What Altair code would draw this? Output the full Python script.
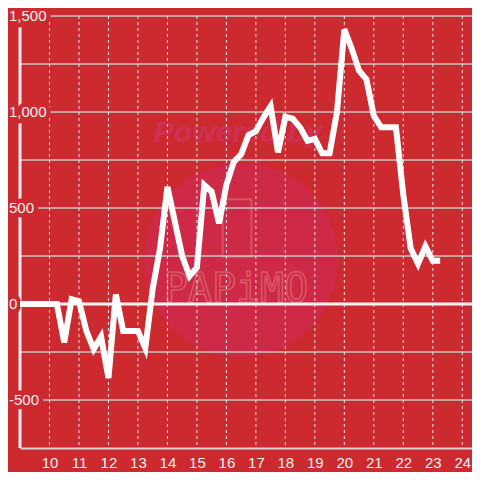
import altair as alt
import pandas as pd

# ---- data ----
hours = [9.0, 9.25, 9.5, 9.75, 10.0, 10.25, 10.5, 10.75, 11.0, 11.25, 11.5, 11.75,
         12.0, 12.25, 12.5, 12.75, 13.0, 13.25, 13.5, 13.75, 14.0, 14.25, 14.5, 14.75,
         15.0, 15.25, 15.5, 15.75, 16.0, 16.25, 16.5, 16.75, 17.0, 17.25, 17.5, 17.75,
         18.0, 18.25, 18.5, 18.75, 19.0, 19.25, 19.5, 19.75, 20.0, 20.25, 20.5, 20.75,
         21.0, 21.25, 21.5, 21.75, 22.0, 22.25, 22.5, 22.75, 23.0, 23.25]
profit = [0, 0, 0, 0, 0, 0, -200, 25, 15, -140, -235, -170,
          -385, 50, -140, -140, -140, -230, 80, 290, 610, 430, 250, 145,
          190, 620, 585, 420, 620, 740, 780, 880, 900, 970, 1030, 790,
          975, 965, 920, 850, 860, 785, 785, 1000, 1430, 1330, 1215, 1170,
          980, 920, 920, 920, 570, 290, 210, 300, 225, 225]
x_ticks = [10, 11, 12, 13, 14, 15, 16, 17, 18, 19, 20, 21, 22, 23, 24]
grid_y = [1500, 1250, 1000, 750, 500, 250, -250, -500]
label_values = [1500, 1000, 500, 0, -500]
label_texts = ["1,500", "1,000", "500", "0", "-500"]

W, H = 452, 432
BG = "#cc2a2f"
FONT = "Liberation Sans"

xs = alt.Scale(domain=[9, 24.33], nice=False, zero=False)
ys = alt.Scale(domain=[-750, 1500], nice=False, zero=False)
x_axis = alt.Axis(values=x_ticks, grid=False, ticks=False, domainColor="#d6d6d6",
                  domainWidth=2, labelColor="#f2f2f2", labelFontSize=15,
                  labelFont=FONT, labelPadding=7, title=None)
y_enc = alt.Y("v:Q", scale=ys, axis=None)

line_df = pd.DataFrame({"hour": hours, "v": profit})
gy_df = pd.DataFrame({"v": grid_y})
gx_df = pd.DataFrame({"hour": x_ticks})
lab_df = pd.DataFrame({"v": label_values, "t": label_texts})
one = pd.DataFrame({"a": [0]})

# watermark
circle = alt.Chart(one).mark_point(shape="circle", filled=True, size=37636,
                                   color="#ce2947", opacity=1).encode(
    x=alt.value(221), y=alt.value(244))
phone = alt.Chart(one).mark_point(shape="M-0.5,-1H0.5V1H-0.5Z", filled=False,
                                  color="#d9545f", strokeWidth=2, size=3300, opacity=1).encode(
    x=alt.value(217), y=alt.value(212))
powered = alt.Chart(one).mark_text(text="Powered by", font=FONT, fontSize=30,
                                   fontWeight="bold", fontStyle="italic",
                                   color="#d02f55").encode(
    x=alt.value(218), y=alt.value(117))
papimo = alt.Chart(one).mark_text(text="PAPiMO", font="DejaVu Sans Mono", fontSize=40,
                                  fill="transparent", stroke="#da5a66",
                                  strokeWidth=1.5).encode(
    x=alt.value(216), y=alt.value(274))

# grid
hgrid = alt.Chart(gy_df).mark_rule(color="#c8c8c8", strokeWidth=1.5).encode(
    y=y_enc, x=alt.value(0), x2=alt.value(W))
vgrid = alt.Chart(gx_df).mark_rule(color="#e6e6e6", strokeWidth=1, strokeDash=[3, 3]).encode(
    x=alt.X("hour:Q", scale=xs, axis=x_axis), y=alt.value(0), y2=alt.value(H))
zero = alt.Chart(pd.DataFrame({"v": [0]})).mark_rule(color="#f4f4f4", strokeWidth=3).encode(
    y=y_enc, x=alt.value(0), x2=alt.value(W))
yline = alt.Chart(one).mark_rule(color="#eeeeee", strokeWidth=3).encode(
    x=alt.value(0), y=alt.value(0), y2=alt.value(H))

# y labels with background knock-out
lab_bg = alt.Chart(lab_df).mark_text(align="left", baseline="middle", font=FONT,
                                     fontSize=15, fill=BG, stroke=BG, strokeWidth=9,
                                     strokeJoin="round").encode(
    x=alt.value(-11), y=y_enc, text="t:N")
lab = alt.Chart(lab_df).mark_text(align="left", baseline="middle", font=FONT,
                                  fontSize=15, color="#f2f2f2").encode(
    x=alt.value(-11), y=y_enc, text="t:N")

line = alt.Chart(line_df).mark_line(color="#ffffff", strokeWidth=6).encode(
    x=alt.X("hour:Q", scale=xs, axis=x_axis), y=y_enc)

chart = alt.layer(circle, phone, powered, papimo, hgrid, vgrid, zero, yline,
                  lab_bg, lab, line).properties(
    width=W, height=H, background=BG,
    autosize=alt.AutoSizeParams(type="none"),
    padding={"left": 12, "top": 8, "right": 0, "bottom": 24},
).configure_view(stroke=None)

chart.save("out.html", embed_options={"renderer": "svg", "actions": False})
